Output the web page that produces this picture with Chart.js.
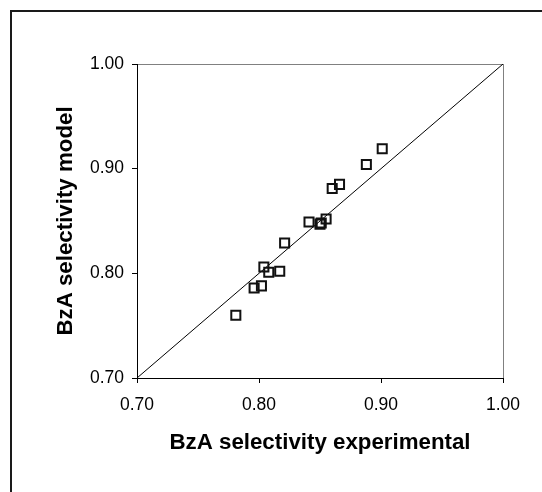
<!DOCTYPE html>
<html>
<head>
<meta charset="utf-8">
<script src="https://cdn.jsdelivr.net/npm/chart.js@4.4.1/dist/chart.umd.min.js"></script>
<style>
  html, body { margin: 0; padding: 0; background: #fff; }
  canvas { display: block; }
</style>
</head>
<body>
<canvas id="parity" width="542" height="492"></canvas>
<script>
// BzA selectivity: measured vs. model
const experimental = [0.781, 0.796, 0.802, 0.804, 0.808, 0.817, 0.821, 0.841, 0.850, 0.851, 0.855, 0.860, 0.866, 0.888, 0.901];
const model        = [0.760, 0.786, 0.788, 0.806, 0.801, 0.802, 0.829, 0.849, 0.847, 0.848, 0.852, 0.881, 0.885, 0.904, 0.919];
const parityLine = [0.70, 1.00];
const tickValues = [0.70, 0.80, 0.90, 1.00];

const FONT = '"Liberation Sans", Arial, sans-serif';

const points = experimental.map((x, i) => ({ x: x, y: model[i] }));
const diagonal = parityLine.map((v) => ({ x: v, y: v }));

// frame line along the top and left of the figure
const outerFrame = {
  id: 'outerFrame',
  afterDraw(chart) {
    const ctx = chart.ctx;
    ctx.save();
    ctx.strokeStyle = '#1a1a1a';
    ctx.lineWidth = 2;
    ctx.beginPath();
    ctx.moveTo(11, chart.height);
    ctx.lineTo(11, 11);
    ctx.lineTo(chart.width, 11);
    ctx.stroke();
    ctx.restore();
  }
};

const edgeColor = (ctx) => (ctx.tick && Math.abs(ctx.tick.value - 1) < 1e-9 ? '#808080' : 'rgba(0,0,0,0)');

const axis = (titleText, titlePadding) => ({
  type: 'linear',
  min: 0.7,
  max: 1.0,
  afterBuildTicks: (scale) => {
    scale.ticks = tickValues.map((v) => ({ value: v }));
  },
  border: { display: true, color: '#000', width: 1 },
  grid: {
    drawOnChartArea: true,
    color: edgeColor,
    tickColor: '#000',
    tickLength: 5,
    lineWidth: 1
  },
  ticks: {
    color: '#000',
    font: { family: FONT, size: 17.5, lineHeight: 1.2 },
    callback: (v) => Number(v).toFixed(2)
  },
  title: {
    display: true,
    text: titleText,
    color: '#000',
    font: { family: FONT, size: 22.3, weight: 'bold', lineHeight: 1.2 },
    padding: titlePadding
  }
});

const xAxis = axis('BzA selectivity experimental', { top: 0, bottom: 36 });
xAxis.ticks.padding = 12;
xAxis.afterFit = (scale) => { scale.height = 114; };

const yAxis = axis('BzA selectivity model', { top: 52, bottom: 0 });
yAxis.ticks.padding = 8;
yAxis.afterFit = (scale) => { scale.width = 137; };

new Chart(document.getElementById('parity'), {
  type: 'scatter',
  data: {
    datasets: [
      {
        label: 'parity',
        type: 'line',
        data: diagonal,
        borderColor: '#000',
        borderWidth: 1,
        pointRadius: 0,
        fill: false,
        order: 2
      },
      {
        label: 'BzA selectivity',
        data: points,
        pointStyle: 'rect',
        pointRadius: 6.4,
        pointHoverRadius: 6.4,
        borderColor: '#111',
        borderWidth: 2,
        backgroundColor: 'rgba(0,0,0,0)',
        order: 1
      }
    ]
  },
  options: {
    responsive: false,
    animation: false,
    layout: { padding: { top: 64, right: 39, left: 0, bottom: 0 } },
    plugins: {
      legend: { display: false },
      tooltip: { enabled: false }
    },
    scales: { x: xAxis, y: yAxis }
  },
  plugins: [outerFrame]
});
</script>
</body>
</html>
